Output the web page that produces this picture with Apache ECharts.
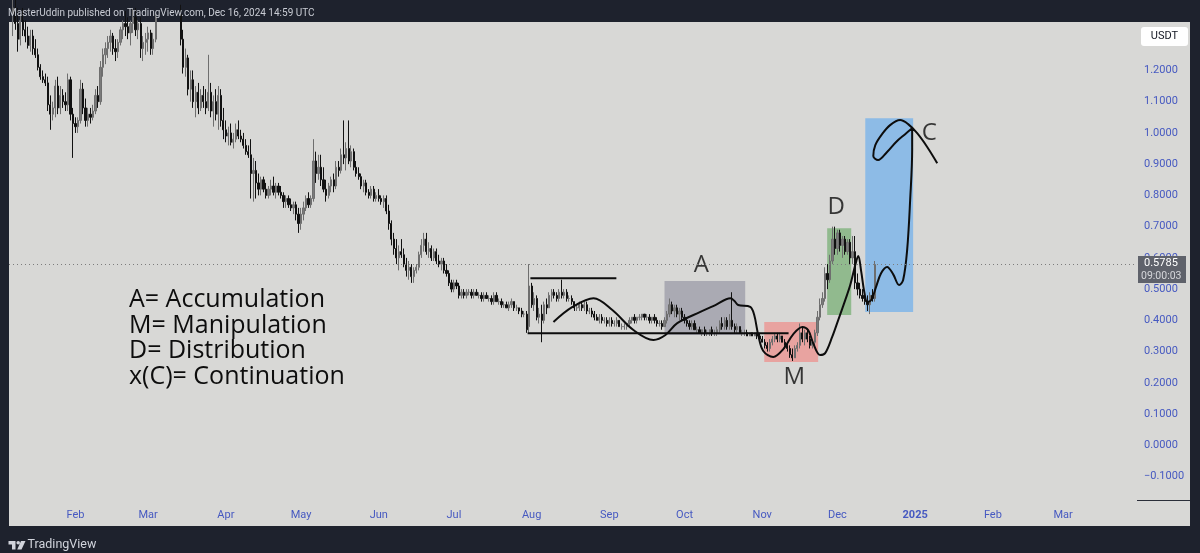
<!DOCTYPE html>
<html>
<head>
<meta charset="utf-8">
<script src="https://cdn.jsdelivr.net/npm/echarts@6/dist/echarts.min.js"></script>
<style>
html,body{margin:0;padding:0;background:#1e222d;}
#c{width:1200px;height:553px;}
</style>
</head>
<body>
<div id="c"></div>
<script>
// ---- x axis: one slot per day, Jan 6 2024 .. Mar 30 2025 ----
const axisDays = 450;
const monthTickIdx = [26, 55, 86, 116, 147, 177, 208, 239, 269, 300, 330, 361, 392, 420];
const monthLabels = ['Feb', 'Mar', 'Apr', 'May', 'Jun', 'Jul', 'Aug', 'Sep', 'Oct', 'Nov', 'Dec', '2025', 'Feb', 'Mar'];
const priceTicks = [-0.1, 0, 0.1, 0.2, 0.3, 0.4, 0.5, 0.6, 0.7, 0.8, 0.9, 1.0, 1.1, 1.2];

// ---- daily candles (index 0 = Jan 6 2024, last = Dec 16 2024) ----
const opens = [
// Jan
1.42,1.38,1.40,1.35,1.30,1.36,1.33,1.31,1.28,1.31,1.27,1.25,1.21,1.18,1.17,1.16,1.09,1.06,1.08,1.15,1.08,1.12,1.10,1.09,1.17,1.06,
// Feb
1.03,1.02,1.04,1.14,1.08,1.04,1.06,1.05,1.07,1.12,1.10,1.21,1.25,1.27,1.29,1.31,1.27,1.26,1.29,1.33,1.35,1.34,1.32,1.35,1.37,1.33,1.35,1.27,1.29,
// Mar
1.30,1.32,1.27,1.30,1.37,1.40,1.44,1.47,1.45,1.48,1.46,1.42,1.44,1.38,1.30,1.21,1.24,1.14,1.17,1.10,1.13,1.08,1.12,1.10,1.08,1.13,1.07,1.10,1.06,1.12,1.04,
// Apr
1.01,0.99,1.00,0.97,0.98,1.01,0.99,0.98,0.96,0.94,0.93,0.87,0.88,0.84,0.82,0.85,0.82,0.80,0.82,0.83,0.81,0.83,0.81,0.80,0.78,0.79,0.77,0.76,0.77,0.74,
// May
0.71,0.74,0.76,0.79,0.77,0.79,0.91,0.87,0.89,0.85,0.82,0.80,0.83,0.85,0.83,0.89,0.88,0.93,0.92,0.95,0.91,0.94,0.89,0.87,0.86,0.83,0.84,0.81,0.80,0.82,0.79,
// Jun
0.80,0.79,0.78,0.79,0.75,0.71,0.66,0.63,0.60,0.62,0.61,0.58,0.56,0.57,0.54,0.56,0.57,0.61,0.64,0.66,0.62,0.63,0.60,0.62,0.59,0.58,0.59,0.56,0.55,0.52,
// Jul
0.50,0.52,0.51,0.48,0.49,0.48,0.49,0.49,0.48,0.49,0.48,0.48,0.47,0.48,0.47,0.47,0.46,0.48,0.46,0.46,0.45,0.45,0.44,0.45,0.46,0.44,0.44,0.43,0.42,0.42,0.38,
// Aug
0.51,0.45,0.47,0.41,0.42,0.40,0.45,0.44,0.48,0.49,0.48,0.47,0.49,0.48,0.49,0.47,0.47,0.46,0.44,0.44,0.45,0.44,0.45,0.43,0.43,0.42,0.41,0.40,0.41,0.40,0.40,
// Sep
0.39,0.40,0.39,0.39,0.40,0.38,0.38,0.38,0.39,0.40,0.41,0.40,0.41,0.41,0.42,0.41,0.41,0.40,0.41,0.40,0.39,0.39,0.38,0.40,0.42,0.45,0.43,0.44,0.42,0.43,
// Oct
0.41,0.40,0.39,0.38,0.39,0.37,0.37,0.36,0.37,0.36,0.36,0.37,0.36,0.36,0.37,0.39,0.38,0.40,0.38,0.40,0.38,0.37,0.38,0.36,0.36,0.36,0.35,0.36,0.35,0.36,0.35,
// Nov
0.34,0.33,0.32,0.31,0.33,0.34,0.35,0.34,0.35,0.33,0.32,0.31,0.29,0.28,0.31,0.32,0.36,0.34,0.36,0.34,0.32,0.33,0.36,0.41,0.45,0.47,0.55,0.53,0.59,0.66,
// Dec
0.63,0.68,0.64,0.66,0.62,0.65,0.60,0.62,0.52,0.50,0.48,0.47,0.46,0.45,0.48,0.47
];
const highs = [
1.47,1.45,1.44,1.40,1.38,1.40,1.36,1.34,1.33,1.33,1.30,1.27,1.22,1.20,1.19,1.18,1.12,1.10,1.17,1.18,1.15,1.14,1.13,1.19,1.18,1.08,
1.05,1.05,1.17,1.16,1.11,1.08,1.08,1.09,1.14,1.15,1.23,1.27,1.29,1.31,1.33,1.32,1.30,1.30,1.34,1.36,1.39,1.37,1.36,1.40,1.40,1.36,1.37,1.31,1.32,
1.34,1.33,1.32,1.38,1.42,1.46,1.50,1.52,1.50,1.53,1.49,1.47,1.46,1.41,1.33,1.27,1.25,1.20,1.20,1.15,1.16,1.14,1.15,1.14,1.25,1.16,1.12,1.14,1.15,1.14,1.08,
1.04,1.02,1.03,1.00,1.03,1.04,1.01,1.00,0.98,0.96,0.98,0.92,0.91,0.87,0.86,0.86,0.84,0.83,0.85,0.86,0.84,0.84,0.83,0.81,0.80,0.80,0.79,0.78,0.78,0.76,
0.76,0.78,0.80,0.81,0.80,0.98,0.94,0.93,0.93,0.89,0.85,0.84,0.86,0.87,0.91,0.91,0.95,1.04,0.97,1.04,0.96,0.95,0.91,0.89,0.87,0.85,0.85,0.82,0.83,0.83,0.81,
0.82,0.80,0.80,0.80,0.77,0.72,0.68,0.66,0.64,0.66,0.63,0.60,0.59,0.58,0.57,0.58,0.62,0.66,0.68,0.68,0.65,0.64,0.63,0.63,0.61,0.60,0.60,0.58,0.56,0.53,
0.53,0.53,0.52,0.50,0.50,0.50,0.50,0.50,0.50,0.50,0.49,0.49,0.49,0.49,0.48,0.48,0.49,0.49,0.47,0.47,0.46,0.46,0.46,0.47,0.46,0.45,0.44,0.44,0.43,0.43,0.58,
0.52,0.49,0.48,0.44,0.45,0.46,0.47,0.49,0.50,0.50,0.49,0.50,0.53,0.50,0.50,0.48,0.48,0.46,0.45,0.46,0.46,0.46,0.46,0.44,0.44,0.43,0.42,0.42,0.42,0.41,0.41,
0.41,0.41,0.40,0.41,0.40,0.39,0.39,0.39,0.41,0.41,0.42,0.41,0.42,0.42,0.42,0.42,0.42,0.41,0.42,0.41,0.40,0.40,0.41,0.43,0.47,0.46,0.45,0.45,0.44,0.44,
0.42,0.41,0.40,0.40,0.40,0.38,0.38,0.37,0.38,0.37,0.37,0.38,0.37,0.38,0.40,0.41,0.41,0.41,0.42,0.49,0.39,0.39,0.38,0.37,0.37,0.37,0.36,0.36,0.36,0.36,0.36,
0.35,0.34,0.33,0.34,0.35,0.36,0.36,0.36,0.35,0.34,0.33,0.32,0.31,0.32,0.33,0.39,0.38,0.37,0.37,0.35,0.34,0.37,0.43,0.47,0.49,0.57,0.58,0.61,0.70,0.70,
0.69,0.69,0.67,0.67,0.66,0.66,0.67,0.67,0.55,0.52,0.50,0.49,0.48,0.49,0.50,0.59
];
const lows = [
1.36,1.31,1.33,1.26,1.28,1.31,1.29,1.27,1.26,1.25,1.24,1.20,1.17,1.16,1.15,1.07,1.01,1.04,1.05,1.06,1.06,1.08,1.07,1.07,1.04,0.92,
1.00,1.00,1.03,1.06,1.02,1.02,1.03,1.04,1.06,1.08,1.09,1.18,1.22,1.24,1.26,1.25,1.23,1.24,1.28,1.30,1.31,1.30,1.28,1.32,1.31,1.30,1.24,1.23,1.25,
1.26,1.25,1.25,1.29,1.36,1.38,1.40,1.42,1.40,1.43,1.38,1.37,1.36,1.28,1.19,1.18,1.12,1.10,1.08,1.05,1.06,1.07,1.08,1.06,1.07,1.05,1.02,1.04,1.01,1.02,0.98,
0.97,0.96,0.96,0.95,0.97,0.98,0.97,0.95,0.93,0.92,0.79,0.78,0.79,0.80,0.80,0.81,0.79,0.79,0.80,0.80,0.79,0.80,0.79,0.76,0.76,0.76,0.75,0.74,0.72,0.68,
0.69,0.72,0.75,0.76,0.76,0.78,0.84,0.85,0.83,0.81,0.78,0.79,0.81,0.81,0.82,0.86,0.87,0.90,0.88,0.90,0.89,0.88,0.86,0.85,0.82,0.81,0.80,0.79,0.79,0.78,0.78,
0.78,0.77,0.76,0.74,0.69,0.64,0.61,0.58,0.56,0.60,0.57,0.54,0.53,0.52,0.52,0.55,0.56,0.60,0.62,0.61,0.60,0.59,0.59,0.58,0.57,0.56,0.55,0.54,0.51,0.49,
0.49,0.50,0.47,0.47,0.47,0.47,0.48,0.47,0.47,0.48,0.47,0.46,0.46,0.47,0.46,0.45,0.45,0.46,0.45,0.44,0.44,0.44,0.43,0.44,0.43,0.43,0.42,0.41,0.41,0.36,0.36,
0.44,0.43,0.40,0.39,0.33,0.39,0.42,0.44,0.46,0.47,0.46,0.46,0.47,0.47,0.46,0.46,0.45,0.43,0.43,0.43,0.43,0.43,0.42,0.42,0.41,0.40,0.40,0.39,0.39,0.39,0.38,
0.38,0.38,0.38,0.38,0.38,0.37,0.37,0.37,0.38,0.39,0.39,0.39,0.40,0.40,0.40,0.40,0.39,0.39,0.39,0.38,0.38,0.37,0.38,0.39,0.41,0.42,0.41,0.41,0.40,0.40,
0.39,0.38,0.37,0.37,0.37,0.36,0.36,0.35,0.35,0.35,0.35,0.35,0.35,0.35,0.36,0.37,0.37,0.37,0.37,0.37,0.36,0.36,0.36,0.35,0.35,0.35,0.35,0.35,0.35,0.34,0.34,
0.33,0.31,0.30,0.30,0.32,0.33,0.33,0.33,0.33,0.31,0.30,0.28,0.27,0.28,0.30,0.31,0.33,0.32,0.33,0.31,0.31,0.32,0.35,0.40,0.44,0.46,0.50,0.52,0.58,0.61,
0.61,0.62,0.60,0.61,0.61,0.58,0.58,0.50,0.48,0.47,0.46,0.45,0.43,0.42,0.46,0.46
];
const closes = [
1.38,1.40,1.35,1.30,1.36,1.33,1.31,1.28,1.31,1.27,1.25,1.21,1.18,1.17,1.16,1.09,1.06,1.08,1.15,1.08,1.12,1.10,1.09,1.17,1.06,1.03,
1.02,1.04,1.14,1.08,1.04,1.06,1.05,1.07,1.12,1.10,1.21,1.25,1.27,1.29,1.31,1.27,1.26,1.29,1.33,1.35,1.34,1.32,1.35,1.37,1.33,1.35,1.27,1.29,1.30,
1.32,1.27,1.30,1.37,1.40,1.44,1.47,1.45,1.48,1.46,1.42,1.44,1.38,1.30,1.21,1.24,1.14,1.17,1.10,1.13,1.08,1.12,1.10,1.08,1.13,1.07,1.10,1.06,1.12,1.04,1.01,
0.99,1.00,0.97,0.98,1.01,0.99,0.98,0.96,0.94,0.93,0.87,0.88,0.84,0.82,0.85,0.82,0.80,0.82,0.83,0.81,0.83,0.81,0.80,0.78,0.79,0.77,0.76,0.77,0.74,0.71,
0.74,0.76,0.79,0.77,0.79,0.91,0.87,0.89,0.85,0.82,0.80,0.83,0.85,0.83,0.89,0.88,0.93,0.92,0.95,0.91,0.94,0.89,0.87,0.86,0.83,0.84,0.81,0.80,0.82,0.79,0.80,
0.79,0.78,0.79,0.75,0.71,0.66,0.63,0.60,0.62,0.61,0.58,0.56,0.57,0.54,0.56,0.57,0.61,0.64,0.66,0.62,0.63,0.60,0.62,0.59,0.58,0.59,0.56,0.55,0.52,0.50,
0.52,0.51,0.48,0.49,0.48,0.49,0.49,0.48,0.49,0.48,0.48,0.47,0.48,0.47,0.47,0.46,0.48,0.46,0.46,0.45,0.45,0.44,0.45,0.46,0.44,0.44,0.43,0.42,0.42,0.37,0.51,
0.45,0.47,0.41,0.42,0.40,0.45,0.44,0.48,0.49,0.48,0.47,0.49,0.48,0.49,0.47,0.47,0.46,0.44,0.44,0.45,0.44,0.45,0.43,0.43,0.42,0.41,0.40,0.41,0.40,0.40,0.39,
0.40,0.39,0.39,0.40,0.38,0.38,0.38,0.39,0.40,0.41,0.40,0.41,0.41,0.42,0.41,0.41,0.40,0.41,0.40,0.39,0.39,0.38,0.40,0.42,0.45,0.43,0.44,0.42,0.43,0.41,
0.40,0.39,0.38,0.39,0.37,0.37,0.36,0.37,0.36,0.36,0.37,0.36,0.36,0.37,0.39,0.38,0.40,0.38,0.40,0.38,0.37,0.38,0.36,0.36,0.36,0.35,0.36,0.35,0.36,0.35,0.34,
0.33,0.32,0.31,0.33,0.34,0.35,0.34,0.35,0.33,0.32,0.31,0.29,0.28,0.31,0.32,0.36,0.34,0.36,0.34,0.32,0.33,0.36,0.41,0.45,0.47,0.55,0.53,0.59,0.66,0.63,
0.68,0.64,0.66,0.62,0.65,0.60,0.62,0.52,0.50,0.48,0.47,0.46,0.45,0.48,0.47,0.5785
];
const countdownText = '09:00:03';

// ---- hand-drawn annotations, in chart units [day index, price] ----
const rangeTopLine = [[207.5, 0.535], [241.8, 0.535]];
const rangeBottomLine = [[206.4, 0.359], [310.5, 0.359]];
const pathCurve = [
[216.7,0.395],[224.3,0.443],[232.7,0.471],[240.2,0.433],[248.6,0.369],[256.6,0.337],[261.4,0.353],[266.1,0.391],
[275.3,0.427],[281.3,0.449],[287.3,0.471],[288.9,0.462],[290.4,0.449],[295.2,0.443],[296.8,0.417],[298.4,0.353],
[300.4,0.302],[304.4,0.283],[308.4,0.308],[312.4,0.356],[316.0,0.379],[318.3,0.369],[320.3,0.327],[323.1,0.289],
[325.1,0.295],[327.9,0.347],[330.3,0.401],[333.1,0.465],[335.1,0.513],[337.1,0.577],[338.3,0.606],[339.5,0.555],
[340.7,0.491],[341.9,0.459],[343.5,0.465],[345.4,0.507],[347.4,0.551],[349.8,0.571],[352.2,0.548],[354.6,0.513],
[356.2,0.529],[357.8,0.625],[359.0,0.785],[359.8,0.945],[359.8,1.015],[357.0,0.996],[353.4,0.971],[349.8,0.939],
[346.2,0.913],[344.3,0.926],[345.1,0.961],[347.8,0.996],[351.0,1.025],[355.0,1.041],[358.2,1.028],[361.8,0.999],
[365.8,0.955],[369.8,0.903]
];
const zoneNames = ['A', 'M', 'D', 'C'];
const zoneFrom = [261.0, 300.8, 325.9, 341.1];
const zoneTo = [293.2, 322.3, 335.5, 360.2];
const zoneHigh = [0.526, 0.395, 0.695, 1.047];
const zoneLow = [0.353, 0.267, 0.417, 0.427];
const zoneLabelX = [275.7, 312.8, 329.5, 366.6];
const zoneLabelY = [0.578, 0.218, 0.761, 0.998];
const legendLines = ['A= Accumulation', 'M= Manipulation', 'D= Distribution', 'x(C)= Continuation'];

// ---- build chart ----
const zoneColors = ['#aaaab3', '#e8a3a0', '#91ba8e', '#8dbbe6'];
const AX = '#4659c1';
const lastClose = closes[closes.length - 1];
const candleData = closes.map((c, i) => [i, opens[i], c, lows[i], highs[i]]);

const chart = echarts.init(document.getElementById('c'), null, {renderer: 'canvas', width: 1200, height: 553});

const graphics = [
  {type: 'rect', z: -10, silent: true, shape: {x: 9, y: 22, width: 1181, height: 504}, style: {fill: '#d8d8d6'}},
  {type: 'text', z: 10, x: 8, y: 13, style: {text: 'MasterUddin published on TradingView.com, Dec 16, 2024 14:59 UTC', fill: '#c9ccd4', font: '10px Roboto', verticalAlign: 'middle'}},
  {type: 'rect', z: 10, shape: {x: 1141, y: 27, width: 47, height: 19, r: 3}, style: {fill: '#ffffff'}},
  {type: 'text', z: 11, x: 1164.5, y: 36.5, style: {text: 'USDT', fill: '#131722', font: '11px Roboto', align: 'center', verticalAlign: 'middle'}},
  {type: 'line', z: 10, shape: {x1: 1137, y1: 500.5, x2: 1190, y2: 500.5}, style: {stroke: '#2a2e39', lineWidth: 1}},
  {type: 'polygon', z: 10, shape: {points: [[8.5,541],[15.5,541],[15.5,549.5],[12,549.5],[12,544.5],[8.5,544.5]]}, style: {fill: '#d1d4dc'}},
  {type: 'circle', z: 10, shape: {cx: 18.2, cy: 542.8, r: 1.8}, style: {fill: '#d1d4dc'}},
  {type: 'polygon', z: 10, shape: {points: [[21,541],[25.5,541],[21.5,549.5],[17.2,549.5]]}, style: {fill: '#d1d4dc'}},
  {type: 'text', z: 10, x: 27.5, y: 545, style: {text: 'TradingView', fill: '#d1d4dc', font: '12.5px Roboto', verticalAlign: 'middle'}}
];
legendLines.forEach((t, k) => {
  graphics.push({type: 'text', z: 10, x: 129, y: 300 + k * 25.5, style: {text: t, fill: '#0d0d0d', font: '25px "Open Sans"', verticalAlign: 'middle'}});
});

const option = {
  backgroundColor: '#1e222d',
  animation: false,
  grid: {left: 9, right: 63, top: 22, bottom: 53, containLabel: false, outerBoundsMode: 'none'},
  xAxis: {
    type: 'value', min: -0.5, max: axisDays - 0.5,
    axisLine: {show: false}, axisTick: {show: false}, splitLine: {show: false},
    axisLabel: {
      customValues: monthTickIdx,
      formatter: v => {
        const t = monthLabels[monthTickIdx.indexOf(v)];
        return /^\d{4}$/.test(t) ? '{b|' + t + '}' : t;
      },
      color: AX, fontSize: 11, fontFamily: 'Roboto', margin: 10,
      rich: {b: {fontWeight: 'bold', color: AX, fontSize: 11, fontFamily: 'Roboto'}}
    }
  },
  yAxis: {
    type: 'value', position: 'right', min: -0.175, max: 1.355, scale: false,
    axisLine: {show: false}, axisTick: {show: false}, splitLine: {show: false},
    axisLabel: {
      customValues: priceTicks,
      formatter: v => (v < 0 ? '\u2212' : '') + Math.abs(v).toFixed(4),
      color: AX, fontSize: 11, fontFamily: 'Roboto', margin: 7
    }
  },
  graphic: graphics,
  series: [
    {
      type: 'line', z: 1, data: [], silent: true,
      markArea: {
        silent: true,
        data: zoneNames.map((n, k) => [
          {coord: [zoneFrom[k], zoneHigh[k]], itemStyle: {color: zoneColors[k]}},
          {coord: [zoneTo[k], zoneLow[k]]}
        ])
      }
    },
    {
      type: 'candlestick', z: 2, clip: true, barWidth: 1.7, silent: true,
      data: candleData,
      itemStyle: {color: '#7b7b7b', color0: '#111111', borderColor: '#6e6e6e', borderColor0: '#111111', borderWidth: 1},
      markLine: {
        silent: true, symbol: ['none', 'none'],
        lineStyle: {color: '#7c7c7c', type: [1, 3], width: 1},
        label: {
          show: true, position: 'end', distance: 1,
          formatter: () => '{s| }\n{a|' + lastClose.toFixed(4) + '}\n{b|' + countdownText + '}',
          rich: {
            s: {height: 11, lineHeight: 11, fontSize: 8},
            a: {color: '#ffffff', fontSize: 11, fontFamily: 'Roboto', backgroundColor: '#5f626b', width: 42, height: 14, lineHeight: 14, padding: [0, 0, 0, 6]},
            b: {color: '#d6d7db', fontSize: 10.5, fontFamily: 'Roboto', backgroundColor: '#5f626b', width: 45, height: 13, lineHeight: 13, padding: [0, 0, 0, 3]}
          }
        },
        data: [{yAxis: lastClose}]
      }
    },
    {type: 'line', z: 3, silent: true, data: rangeTopLine, symbol: 'none', lineStyle: {color: '#0d0d0d', width: 2}},
    {type: 'line', z: 3, silent: true, data: rangeBottomLine, symbol: 'none', lineStyle: {color: '#0d0d0d', width: 2}},
    {type: 'line', z: 3, silent: true, data: pathCurve, symbol: 'none', smooth: 0.35, lineStyle: {color: '#0d0d0d', width: 2}},
    {
      type: 'scatter', z: 4, silent: true, symbolSize: 1,
      data: zoneLabelX.map((x, k) => [x, zoneLabelY[k]]),
      itemStyle: {color: 'rgba(0,0,0,0)'},
      label: {show: true, position: 'inside', formatter: p => zoneNames[p.dataIndex], color: '#0d0d0d', fontSize: 24, fontFamily: 'Open Sans'}
    }
  ]
};
chart.setOption(option);
</script>
</body>
</html>
